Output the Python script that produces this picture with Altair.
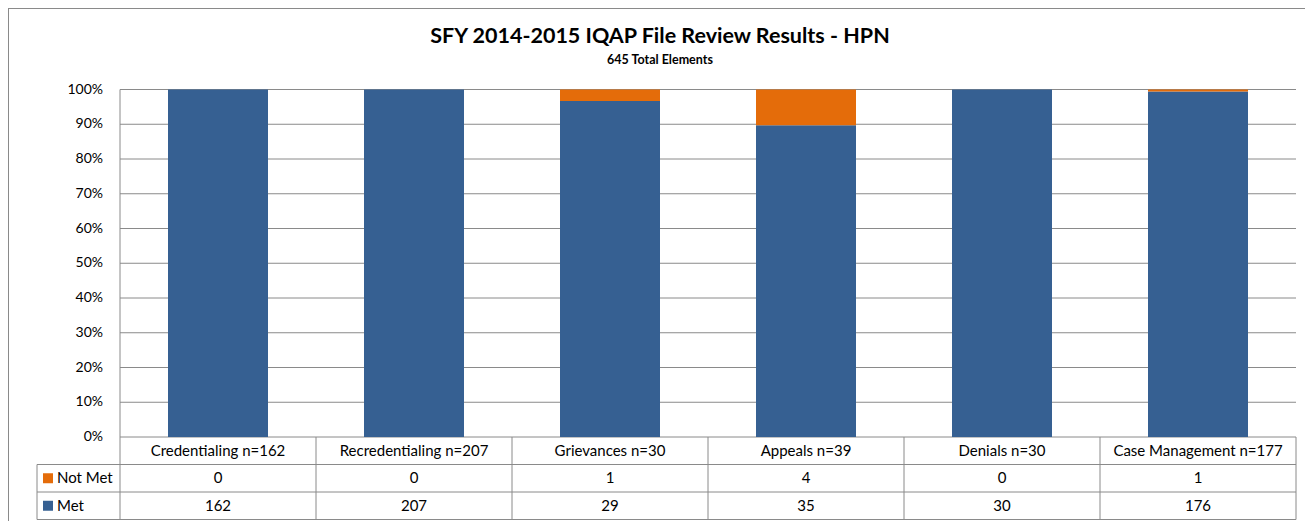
import altair as alt
import pandas as pd

# ---- data ----
categories = ["Credentialing n=162", "Recredentialing n=207", "Grievances n=30",
              "Appeals n=39", "Denials n=30", "Case Management n=177"]
not_met = [0, 0, 1, 4, 0, 1]
met = [162, 207, 29, 35, 30, 176]
series = ["Not Met", "Met"]
series_colors = ["#E46C0A", "#366092"]
tick_values = [0.0, 0.1, 0.2, 0.3, 0.4, 0.5, 0.6, 0.7, 0.8, 0.9, 1.0]
tick_labels = ["0%", "10%", "20%", "30%", "40%", "50%", "60%", "70%", "80%", "90%", "100%"]
title_text = "SFY 2014-2015 IQAP File Review Results - HPN"
subtitle_text = "645 Total Elements"

# ---- layout (pixels) ----
W, H = 1297, 513
PLOT_LEFT = 112          # where the first category column starts
COL_W = 196              # width of one category column
Y0_PX, Y100_PX = 429.0, 81.5
UNIT = Y0_PX - Y100_PX   # pixels for 100 %
ROW_H = 27.5 / UNIT      # table row height in y units
LABEL_W = 83 / COL_W     # row-label column width in x units
BAR_HALF = 50 / COL_W
GRAY = "#8a8a8a"
FONT = "Lato"

n = len(categories)
x_dom = [-PLOT_LEFT / COL_W, (W - PLOT_LEFT) / COL_W]
y_dom = [-(H - Y0_PX) / UNIT, 1 + Y100_PX / UNIT]
xs = alt.Scale(domain=x_dom, nice=False, zero=False)
ys = alt.Scale(domain=y_dom, nice=False, zero=False)

# ---- tables built from the arrays ----
bars = []
for i, (c, nm, m) in enumerate(zip(categories, not_met, met)):
    tot = nm + m
    bars.append(dict(cat=c, series="Met", lo=0.0, hi=m / tot,
                     x0=i + 0.5 - BAR_HALF, x1=i + 0.5 + BAR_HALF))
    bars.append(dict(cat=c, series="Not Met", lo=m / tot, hi=1.0,
                     x0=i + 0.5 - BAR_HALF, x1=i + 0.5 + BAR_HALF))
bars_df = pd.DataFrame(bars)

grid_df = pd.DataFrame({"y": tick_values, "lab": tick_labels, "x0": 0.0, "x1": float(n)})

h_lines = [dict(y=-k * ROW_H, x0=-LABEL_W, x1=float(n)) for k in (1, 2, 3)]
hl_df = pd.DataFrame(h_lines)
v_lines = [dict(x=0.0, y0=1.0, y1=-3 * ROW_H)]
v_lines += [dict(x=float(i), y0=0.0, y1=-3 * ROW_H) for i in range(1, n + 1)]
v_lines += [dict(x=-LABEL_W, y0=-ROW_H, y1=-3 * ROW_H)]
vl_df = pd.DataFrame(v_lines)

cells = []
for i, c in enumerate(categories):
    cells.append(dict(x=i + 0.5, y=-0.5 * ROW_H, t=c))
    cells.append(dict(x=i + 0.5, y=-1.5 * ROW_H, t=str(not_met[i])))
    cells.append(dict(x=i + 0.5, y=-2.5 * ROW_H, t=str(met[i])))
cells_df = pd.DataFrame(cells)

rowlab_df = pd.DataFrame({
    "series": series,
    "x": [-LABEL_W] * 2,
    "sx": [-LABEL_W + 11 / COL_W] * 2,
    "y": [-1.5 * ROW_H, -2.5 * ROW_H],
})

frame_top = pd.DataFrame({"y": [y_dom[1]], "x0": [x_dom[0]], "x1": [x_dom[1]]})
frame_left = pd.DataFrame({"x": [x_dom[0]], "y0": [y_dom[0]], "y1": [y_dom[1]]})

color_scale = alt.Scale(domain=series, range=series_colors)

# ---- layers ----
grid = alt.Chart(grid_df).mark_rule(color=GRAY, strokeWidth=1).encode(
    x=alt.X("x0:Q", scale=xs, axis=None), x2="x1:Q",
    y=alt.Y("y:Q", scale=ys, axis=None),
)

ylabels = alt.Chart(grid_df).mark_text(
    font=FONT, fontSize=14, color="black", align="right", baseline="middle", dx=-17
).encode(
    x=alt.X("x0:Q", scale=xs, axis=None),
    y=alt.Y("y:Q", scale=ys, axis=None),
    text="lab:N",
)

bar_layer = alt.Chart(bars_df).mark_rect().encode(
    x=alt.X("x0:Q", scale=xs, axis=None), x2="x1:Q",
    y=alt.Y("lo:Q", scale=ys, axis=None), y2="hi:Q",
    color=alt.Color("series:N", scale=color_scale, legend=None),
)

hlines = alt.Chart(hl_df).mark_rule(color=GRAY, strokeWidth=1).encode(
    x=alt.X("x0:Q", scale=xs, axis=None), x2="x1:Q",
    y=alt.Y("y:Q", scale=ys, axis=None),
)
vlines = alt.Chart(vl_df).mark_rule(color=GRAY, strokeWidth=1).encode(
    x=alt.X("x:Q", scale=xs, axis=None),
    y=alt.Y("y0:Q", scale=ys, axis=None), y2="y1:Q",
)

cell_text = alt.Chart(cells_df).mark_text(
    font=FONT, fontSize=15, color="black", align="center", baseline="middle"
).encode(
    x=alt.X("x:Q", scale=xs, axis=None),
    y=alt.Y("y:Q", scale=ys, axis=None),
    text="t:N",
)

row_text = alt.Chart(rowlab_df).mark_text(
    font=FONT, fontSize=15, color="black", align="left", baseline="middle", dx=20
).encode(
    x=alt.X("x:Q", scale=xs, axis=None),
    y=alt.Y("y:Q", scale=ys, axis=None),
    text="series:N",
)

row_sq = alt.Chart(rowlab_df).mark_square(size=100, opacity=1).encode(
    x=alt.X("sx:Q", scale=xs, axis=None),
    y=alt.Y("y:Q", scale=ys, axis=None),
    color=alt.Color("series:N", scale=color_scale, legend=None),
)

ftop = alt.Chart(frame_top).mark_rule(color=GRAY, strokeWidth=2).encode(
    x=alt.X("x0:Q", scale=xs, axis=None), x2="x1:Q",
    y=alt.Y("y:Q", scale=ys, axis=None),
)
fleft = alt.Chart(frame_left).mark_rule(color=GRAY, strokeWidth=2).encode(
    x=alt.X("x:Q", scale=xs, axis=None),
    y=alt.Y("y0:Q", scale=ys, axis=None), y2="y1:Q",
)

chart = alt.layer(
    grid, ylabels, bar_layer, hlines, vlines, cell_text, row_text, row_sq, ftop, fleft
).properties(
    width=W, height=H, padding=0,
    autosize=alt.AutoSizeParams(type="none"),
    title=alt.TitleParams(
        text=title_text, subtitle=subtitle_text,
        font=FONT, fontSize=21.5, fontWeight="bold", color="black",
        subtitleFont=FONT, subtitleFontSize=12.5, subtitleFontWeight="bold",
        subtitleColor="black", subtitlePadding=6,
        anchor="middle", offset=-59, dx=3.5,
    ),
).configure_view(strokeWidth=0).configure(font=FONT)

chart.save("out.html", embed_options={"renderer": "svg", "actions": False})
